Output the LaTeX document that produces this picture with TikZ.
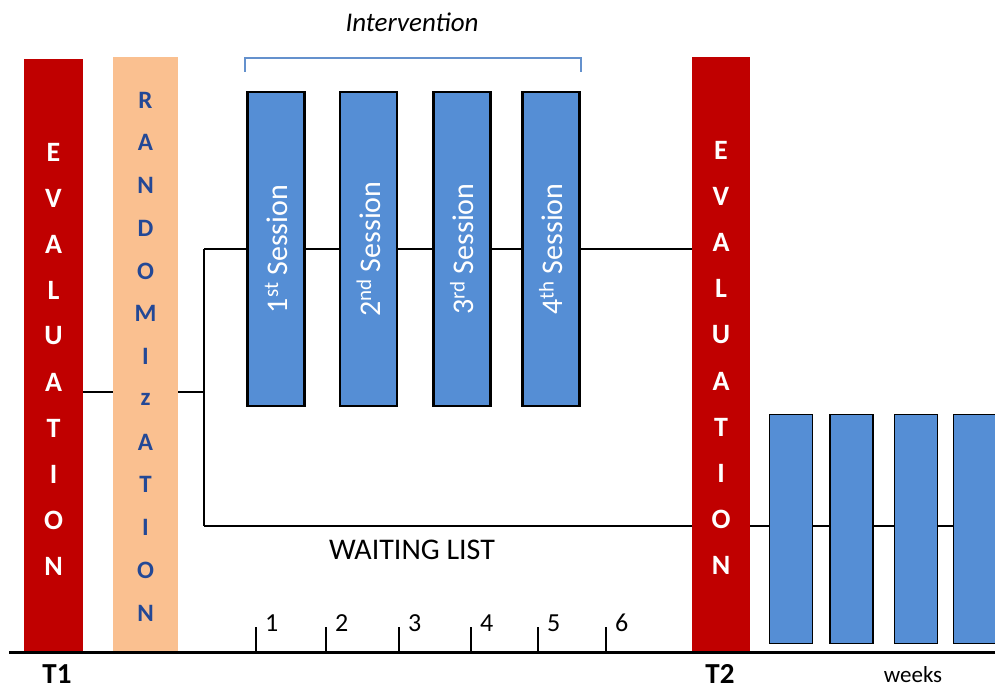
\documentclass[tikz,border=0pt]{standalone}
\usepackage{fontspec}
\setmainfont{Carlito}
\usetikzlibrary{backgrounds}
\definecolor{evalred}{RGB}{192,0,0}
\definecolor{randpeach}{RGB}{250,192,144}
\definecolor{randblue}{RGB}{35,72,150}
\definecolor{sessblue}{RGB}{85,142,213}
\definecolor{bracketblue}{RGB}{100,145,205}
\begin{document}
\begin{tikzpicture}[x=1pt,y=-1pt,
  bar/.style={inner sep=0pt, draw=none, anchor=north west},
  evalbar/.style={bar, fill=evalred},
  randbar/.style={bar, fill=randpeach},
  evalletter/.style={inner sep=0pt, text=white, font=\fontsize{28}{28}\selectfont\bfseries},
  randletter/.style={inner sep=0pt, text=randblue, font=\fontsize{25}{25}\selectfont\bfseries},
  sessbox/.style={inner sep=0pt, fill=sessblue, draw=black, line width=2.8pt, minimum width=57pt, minimum height=314pt},
  waitbox/.style={inner sep=0pt, fill=sessblue, draw=black, line width=1.8pt, minimum width=43pt, minimum height=229pt},
  sesslabel/.style={inner sep=0pt, text=white, rotate=90, font=\fontsize{30}{30}\selectfont},
  link/.style={draw=black, line width=1.4pt},
  tickmark/.style={draw=black, line width=1.6pt},
  ticklabel/.style={inner sep=0pt, anchor=west, font=\fontsize{26}{26}\selectfont},
  timelabel/.style={inner sep=0pt, font=\fontsize{29}{29}\selectfont\bfseries}
]
\useasboundingbox (0,0) rectangle (995,689);

% evaluation and randomization bars
\node[evalbar, minimum width=59pt, minimum height=593pt] (eval1) at (24,59) {};
\node[randbar, minimum width=65pt, minimum height=595pt] (rand) at (113,57) {};
\node[evalbar, minimum width=58pt, minimum height=595pt] (eval2) at (692,57) {};

\foreach \l [count=\i from 0] in {E,V,A,L,U,A,T,I,O,N} {
  \node[evalletter] (ea\i) at (53.5,{152+46*\i}) {\l};
  \node[evalletter] (eb\i) at (721,{150+46.2*\i}) {\l};
}
\foreach \l [count=\i from 0] in {R,A,N,D,O,M,I,z,A,T,I,O,N} {
  \node[randletter] (r\i) at (145.5,{100+42.75*\i}) {\l};
}

% intervention sessions
\node[sessbox] (s1) at (276,249) {};
\node[sessbox] (s2) at (368.5,249) {};
\node[sessbox] (s3) at (462,249) {};
\node[sessbox] (s4) at (551,249) {};
\node[sesslabel] (l1) at (s1) {1\textsuperscript{st} Session};
\node[sesslabel] (l2) at (s2) {2\textsuperscript{nd} Session};
\node[sesslabel] (l3) at (s3) {3\textsuperscript{rd} Session};
\node[sesslabel] (l4) at (s4) {4\textsuperscript{th} Session};

% sessions of the waiting list group
\node[waitbox] (w1) at (791,529) {};
\node[waitbox] (w2) at (851.5,529) {};
\node[waitbox] (w3) at (916,529) {};
\node[waitbox] (w4) at (975,529) {};

% connectors
\coordinate (split) at (204,392);
\coordinate (wl) at (204,526);
\coordinate (wlend) at (995,526);
\begin{scope}[on background layer]
  \draw[link] (eval1.east |- split) -- (split);
  \draw[link] (split |- s1) -- (wl);
  \draw[link] (split |- s1) -- (eval2.west |- s1);
  \draw[link] (wl) -- (wlend);
\end{scope}

% bracket over the intervention
\draw[draw=bracketblue, line width=1.8pt] (s1.north west) ++(-1,-19) -- ++(0,-14) -| ([shift={(0,-19)}]s4.north east);

\node[inner sep=0pt, font=\fontsize{27}{27}\selectfont\itshape] (intv) at (412,22) {Intervention};
\node[inner sep=0pt, font=\fontsize{30}{30}\selectfont] (wait) at (412,550) {WAITING LIST};

% time axis
\draw[draw=black, line width=3pt] (9,652) -- (995,652);
\foreach \x [count=\n] in {256,326,399,471,538,606} {
  \draw[tickmark] (\x,652) -- (\x,627);
  \node[ticklabel] (t\n) at (\x+9,623) {\n};
}
\node[timelabel] (T1) at (57,674) {T1};
\node[timelabel] (T2) at (720,674) {T2};
\node[inner sep=0pt, font=\fontsize{23}{23}\selectfont] (weeks) at (913,675) {weeks};
\end{tikzpicture}
\end{document}
